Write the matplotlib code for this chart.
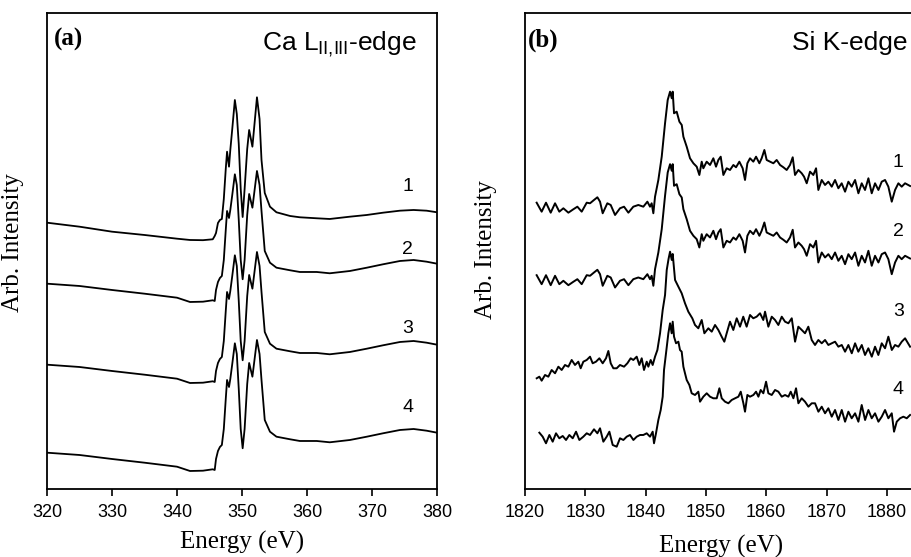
#!/usr/bin/env python3
# -*- coding: utf-8 -*-
# Espectros XANES: borde L del Ca y borde K del Si

import numpy as np
import matplotlib.pyplot as plt

plt.rcParams['font.family'] = ['Liberation Sans', 'DejaVu Sans']
plt.rcParams['mathtext.fontset'] = 'custom'
plt.rcParams['mathtext.rm'] = 'Liberation Sans'

# ---- panel (a): Ca L-edge (unidades arbitrarias) ----
ca_energia = [320, 325, 330, 335, 340, 342, 344, 345.5, 345.8, 346.0, 346.3, 346.6,
              346.9, 347.2, 347.5, 347.7, 348.0, 348.2, 348.5, 348.9, 349.2, 349.5,
              349.8, 350.1, 350.4, 350.8, 351.1, 351.6, 352.3, 352.7, 353.0, 353.5,
              354.3, 355.3, 357.4, 358.9, 361.5, 363.5, 366.6, 369.2, 371.7, 374.3,
              376.4, 378.4, 380]
ca_1 = [2.663, 2.623, 2.573, 2.54, 2.503, 2.49, 2.488, 2.497, 2.53, 2.56, 2.66, 2.69,
        2.70, 2.9, 3.2, 3.373, 3.223, 3.39, 3.6, 3.89, 3.75, 3.45,
        3.0, 2.72, 3.0, 3.4, 3.59, 3.423, 3.917, 3.7, 3.29, 2.96,
        2.823, 2.767, 2.73, 2.717, 2.707, 2.70, 2.723, 2.74, 2.763, 2.783,
        2.79, 2.783, 2.767]
ca_2 = [2.053, 2.03, 1.99, 1.953, 1.913, 1.87, 1.873, 1.887, 1.88, 1.99, 2.07, 2.11,
        2.13, 2.29, 2.59, 2.78, 2.71, 2.79, 2.94, 3.147, 3.04, 2.69,
        2.29, 2.097, 2.29, 2.74, 2.95, 2.813, 3.18, 3.04, 2.78, 2.38,
        2.263, 2.213, 2.187, 2.17, 2.17, 2.157, 2.18, 2.213, 2.247, 2.28,
        2.29, 2.273, 2.253]
ca_3 = [1.243, 1.22, 1.18, 1.143, 1.103, 1.06, 1.063, 1.077, 1.07, 1.18, 1.26, 1.30,
        1.32, 1.48, 1.78, 1.97, 1.90, 1.98, 2.13, 2.337, 2.23, 1.88,
        1.48, 1.287, 1.48, 1.93, 2.14, 2.003, 2.37, 2.23, 1.97, 1.57,
        1.453, 1.403, 1.377, 1.36, 1.36, 1.347, 1.37, 1.403, 1.437, 1.47,
        1.48, 1.463, 1.443]
ca_4 = [0.363, 0.34, 0.30, 0.263, 0.223, 0.18, 0.183, 0.197, 0.19, 0.30, 0.38, 0.42,
        0.44, 0.6, 0.9, 1.09, 1.02, 1.10, 1.25, 1.457, 1.35, 1.0,
        0.6, 0.407, 0.6, 1.05, 1.26, 1.123, 1.49, 1.35, 1.09, 0.69,
        0.573, 0.523, 0.497, 0.48, 0.48, 0.467, 0.49, 0.523, 0.557, 0.59,
        0.6, 0.583, 0.563]
ca_etiquetas = ['1', '2', '3', '4']
ca_etiq_y = [3.02, 2.39, 1.60, 0.81]

# ---- panel (b): Si K-edge ----
# las curvas 1 y 2 tienen la misma forma, la 2 esta desplazada hacia abajo
si_energia_12 = [1821.93, 1822.76, 1823.48, 1824.26, 1824.98, 1825.69, 1826.36, 1827.19,
                 1828.01, 1828.68, 1829.40, 1830.23, 1830.78, 1831.44, 1832.00, 1832.44,
                 1832.88, 1833.65, 1834.21, 1834.93, 1835.75, 1836.42, 1837.14, 1837.96,
                 1838.79, 1839.62, 1840.29, 1840.73, 1841.00, 1841.28, 1841.56, 1842.11,
                 1842.67, 1843.22, 1843.66, 1844.05, 1844.33, 1844.49, 1844.71, 1845.15,
                 1845.60, 1845.99, 1846.26, 1846.81, 1847.36, 1847.92, 1848.47, 1848.91,
                 1849.30, 1849.57, 1850.12, 1850.68, 1851.23, 1851.67, 1852.06, 1852.45,
                 1852.89, 1853.44, 1853.99, 1854.55, 1854.99, 1855.54, 1856.09, 1856.48,
                 1856.87, 1857.31, 1857.86, 1858.31, 1858.86, 1859.24, 1859.69, 1860.07,
                 1860.63, 1861.18, 1861.73, 1862.29, 1862.84, 1863.39, 1863.94, 1864.39,
                 1864.77, 1865.33, 1865.88, 1866.27, 1866.71, 1867.26, 1867.81, 1868.26,
                 1868.64, 1869.20, 1869.75, 1870.30, 1870.86, 1871.41, 1871.96, 1872.51,
                 1873.07, 1873.62, 1874.17, 1874.73, 1875.28, 1875.83, 1876.38, 1876.94,
                 1877.49, 1878.04, 1878.60, 1879.15, 1879.70, 1880.25, 1880.81, 1881.36,
                 1881.91, 1882.46, 1883.02, 1883.85]
si_12 = [2.863, 2.773, 2.863, 2.763, 2.857, 2.773, 2.807, 2.763,
         2.797, 2.823, 2.773, 2.863, 2.857, 2.89, 2.917, 2.873,
         2.757, 2.857, 2.84, 2.74, 2.807, 2.823, 2.763, 2.823,
         2.84, 2.823, 2.873, 2.823, 2.857, 2.757, 2.923, 3.09,
         3.323, 3.657, 3.89, 3.973, 3.907, 3.973, 3.757, 3.773,
         3.673, 3.64, 3.523, 3.423, 3.307, 3.257, 3.223, 3.14,
         3.273, 3.207, 3.273, 3.24, 3.307, 3.223, 3.29, 3.323,
         3.14, 3.207, 3.19, 3.24, 3.217, 3.273, 3.207, 3.09,
         3.257, 3.307, 3.273, 3.323, 3.257, 3.307, 3.39, 3.29,
         3.273, 3.257, 3.29, 3.24, 3.217, 3.19, 3.24, 3.317,
         3.14, 3.19, 3.157, 3.123, 3.057, 3.173, 3.14, 3.207,
         2.99, 3.09, 3.04, 3.073, 3.023, 3.09, 3.007, 3.057,
         2.973, 3.073, 3.023, 3.09, 2.957, 3.057, 2.99, 3.107,
         2.957, 3.057, 2.99, 3.073, 3.09, 3.023, 2.873, 2.99,
         3.057, 3.023, 3.057, 3.03]
si_desplaz_2 = 0.725

si_energia_3 = [1821.94, 1822.38, 1822.76, 1823.32, 1823.87, 1824.42, 1824.98, 1825.53,
                1826.08, 1826.63, 1827.19, 1827.74, 1828.29, 1828.84, 1829.23, 1829.67,
                1830.23, 1830.78, 1831.22, 1831.77, 1832.33, 1832.88, 1833.43, 1833.82,
                1834.21, 1834.65, 1835.20, 1835.75, 1836.42, 1836.97, 1837.52, 1837.96,
                1838.52, 1838.96, 1839.35, 1839.73, 1840.18, 1840.45, 1840.84, 1841.17,
                1841.56, 1841.95, 1842.39, 1842.83, 1843.22, 1843.50, 1843.80, 1844.05,
                1844.33, 1844.49, 1844.88, 1845.43, 1845.98, 1846.53, 1847.08, 1847.74,
                1848.19, 1848.74, 1849.30, 1849.74, 1850.40, 1850.96, 1851.51, 1852.06,
                1852.61, 1853.05, 1853.44, 1853.99, 1854.54, 1855.10, 1855.65, 1856.19,
                1856.75, 1857.31, 1857.85, 1858.41, 1858.97, 1859.51, 1859.80, 1860.35,
                1860.91, 1861.46, 1862.01, 1862.57, 1863.12, 1863.67, 1864.23, 1864.78,
                1865.32, 1865.89, 1866.43, 1866.98, 1867.54, 1868.09, 1868.64, 1869.20,
                1869.75, 1870.30, 1870.86, 1871.41, 1871.96, 1872.52, 1873.07, 1873.62,
                1874.18, 1874.73, 1875.27, 1875.84, 1876.38, 1876.93, 1877.50, 1878.04,
                1878.59, 1879.15, 1879.70, 1880.25, 1880.82, 1881.36, 1881.91, 1882.47,
                1883.02, 1883.85]
si_3 = [1.107, 1.123, 1.083, 1.14, 1.123, 1.19, 1.157, 1.223,
        1.19, 1.24, 1.223, 1.29, 1.24, 1.273, 1.207, 1.273,
        1.29, 1.323, 1.257, 1.273, 1.307, 1.257, 1.307, 1.38,
        1.257, 1.207, 1.207, 1.24, 1.223, 1.257, 1.307, 1.29,
        1.323, 1.24, 1.307, 1.19, 1.273, 1.223, 1.29, 1.24,
        1.323, 1.39, 1.557, 1.79, 1.94, 2.19, 2.30, 2.373,
        2.29, 2.35, 2.09, 2.023, 1.957, 1.857, 1.773, 1.707,
        1.64, 1.607, 1.69, 1.557, 1.607, 1.573, 1.64, 1.59,
        1.523, 1.473, 1.557, 1.673, 1.59, 1.707, 1.623, 1.723,
        1.623, 1.74, 1.707, 1.723, 1.757, 1.69, 1.773, 1.623,
        1.723, 1.69, 1.64, 1.723, 1.673, 1.657, 1.707, 1.473,
        1.623, 1.59, 1.557, 1.623, 1.49, 1.44, 1.49, 1.457,
        1.49, 1.44, 1.457, 1.473, 1.423, 1.44, 1.373, 1.44,
        1.357, 1.457, 1.373, 1.44, 1.34, 1.407, 1.323, 1.423,
        1.34, 1.457, 1.407, 1.523, 1.39, 1.44, 1.423, 1.473,
        1.507, 1.423]

si_energia_4 = [1822.38, 1822.93, 1823.48, 1824.04, 1824.59, 1825.14, 1825.69, 1826.25,
                1826.80, 1827.35, 1827.91, 1828.46, 1829.01, 1829.67, 1830.23, 1830.78,
                1831.44, 1832.00, 1832.44, 1832.99, 1833.54, 1833.99, 1834.54, 1835.20,
                1835.75, 1836.31, 1836.86, 1837.41, 1837.97, 1838.52, 1839.07, 1839.62,
                1840.18, 1840.73, 1841.17, 1841.39, 1841.72, 1842.11, 1842.50, 1842.83,
                1843.05, 1843.38, 1843.77, 1844.05, 1844.32, 1844.49, 1844.71, 1845.04,
                1845.43, 1845.70, 1845.98, 1846.26, 1846.53, 1846.81, 1847.25, 1847.64,
                1848.19, 1848.74, 1849.02, 1849.57, 1850.13, 1850.68, 1851.23, 1851.79,
                1852.23, 1852.62, 1853.17, 1853.72, 1854.27, 1854.83, 1855.38, 1855.77,
                1856.21, 1856.48, 1856.87, 1857.31, 1857.87, 1858.31, 1858.70, 1859.08,
                1859.52, 1859.97, 1860.35, 1860.91, 1861.46, 1862.01, 1862.57, 1863.12,
                1863.67, 1864.06, 1864.50, 1864.94, 1865.33, 1865.88, 1866.43, 1866.99,
                1867.54, 1868.09, 1868.65, 1869.20, 1869.75, 1870.30, 1870.86, 1871.41,
                1871.96, 1872.52, 1873.07, 1873.62, 1874.17, 1874.73, 1875.28, 1875.83,
                1876.39, 1876.94, 1877.49, 1878.04, 1878.60, 1879.15, 1879.70, 1880.25,
                1880.81, 1881.19, 1881.64, 1882.19, 1882.74, 1883.30, 1883.85]
si_4 = [0.563, 0.523, 0.457, 0.54, 0.473, 0.557, 0.507, 0.53,
        0.49, 0.54, 0.507, 0.573, 0.49, 0.523, 0.557, 0.54,
        0.597, 0.557, 0.607, 0.473, 0.523, 0.573, 0.44, 0.423,
        0.507, 0.49, 0.523, 0.54, 0.49, 0.523, 0.54, 0.54,
        0.557, 0.523, 0.573, 0.457, 0.557, 0.69, 0.79, 0.923,
        1.19, 1.357, 1.557, 1.657, 1.557, 1.673, 1.523, 1.457,
        1.473, 1.39, 1.373, 1.223, 1.157, 1.09, 1.04, 0.957,
        0.94, 0.973, 0.873, 0.923, 0.957, 0.923, 0.907, 0.907,
        1.007, 0.907, 0.873, 0.857, 0.89, 0.907, 0.923, 0.973,
        0.857, 0.773, 0.94, 0.923, 0.94, 0.973, 0.923, 0.99,
        0.957, 1.073, 0.957, 0.94, 0.99, 0.973, 0.923, 0.94,
        0.923, 0.973, 0.907, 1.007, 0.857, 0.907, 0.873, 0.823,
        0.857, 0.857, 0.773, 0.823, 0.757, 0.807, 0.723, 0.79,
        0.69, 0.79, 0.673, 0.773, 0.707, 0.757, 0.673, 0.84,
        0.69, 0.79, 0.707, 0.757, 0.673, 0.723, 0.79, 0.707,
        0.757, 0.573, 0.673, 0.707, 0.723, 0.707, 0.74]
si_etiquetas = ['1', '2', '3', '4']
si_etiq_y = [3.26, 2.57, 1.77, 0.99]


def preparar_ejes(ax, xticks, xlim):
    ax.set_xlim(xlim)
    ax.set_ylim(0, 4.76)
    ax.set_xticks(xticks)
    ax.set_yticks([])
    ax.tick_params(axis='x', direction='out', length=5, width=1.2,
                   labelsize=13, pad=6)
    for s in ax.spines.values():
        s.set_linewidth(1.3)
    ax.set_ylabel('Arb. Intensity', family='Liberation Serif', fontsize=18)


fig = plt.figure(figsize=(9.11, 5.57), dpi=100)
ax1 = fig.add_axes([0.0516, 0.1221, 0.4281, 0.8546])
ax2 = fig.add_axes([0.5763, 0.1221, 0.4303, 0.8546])

# panel (a)
for y in [ca_1, ca_2, ca_3, ca_4]:
    ax1.plot(ca_energia, y, color='black', lw=1.3)
for t, yt in zip(ca_etiquetas, ca_etiq_y):
    ax1.text(375.5, yt, t, fontsize=14, ha='center', va='center')
preparar_ejes(ax1, np.arange(320, 381, 10), (320, 380))
ax1.set_xlabel('Energy (eV)', family='Liberation Serif', fontsize=18)
ax1.xaxis.set_label_coords(0.5, -0.088)
ax1.yaxis.set_label_coords(-0.059, 0.517)
ax1.text(0.018, 0.968, '(a)', transform=ax1.transAxes, family='Liberation Serif',
         fontweight='bold', fontsize=18, va='top', ha='left')
ax1.text(0.949, 0.922, r'Ca L$_{\mathregular{II{,}III}}$-edge', transform=ax1.transAxes,
         fontsize=19, ha='right', va='baseline')

# panel (b)
ax2.plot(si_energia_12, si_12, color='black', lw=1.4)
ax2.plot(si_energia_12, np.array(si_12) - si_desplaz_2, color='black', lw=1.4)
ax2.plot(si_energia_3, si_3, color='black', lw=1.4)
ax2.plot(si_energia_4, si_4, color='black', lw=1.4)
for t, yt in zip(si_etiquetas, si_etiq_y):
    ax2.text(1881.9, yt, t, fontsize=14, ha='center', va='center')
preparar_ejes(ax2, np.arange(1820, 1881, 10), (1820, 1885))
ax2.set_xlabel('Energy (eV)', family='Liberation Serif', fontsize=18)
ax2.xaxis.set_label_coords(0.5, -0.097)
ax2.yaxis.set_label_coords(-0.071, 0.504)
ax2.text(0.008, 0.968, '(b)', transform=ax2.transAxes, family='Liberation Serif',
         fontweight='bold', fontsize=18, va='top', ha='left')
ax2.text(0.977, 0.922, 'Si K-edge', transform=ax2.transAxes,
         fontsize=19, ha='right', va='baseline')

plt.savefig('out.png', dpi=100)
